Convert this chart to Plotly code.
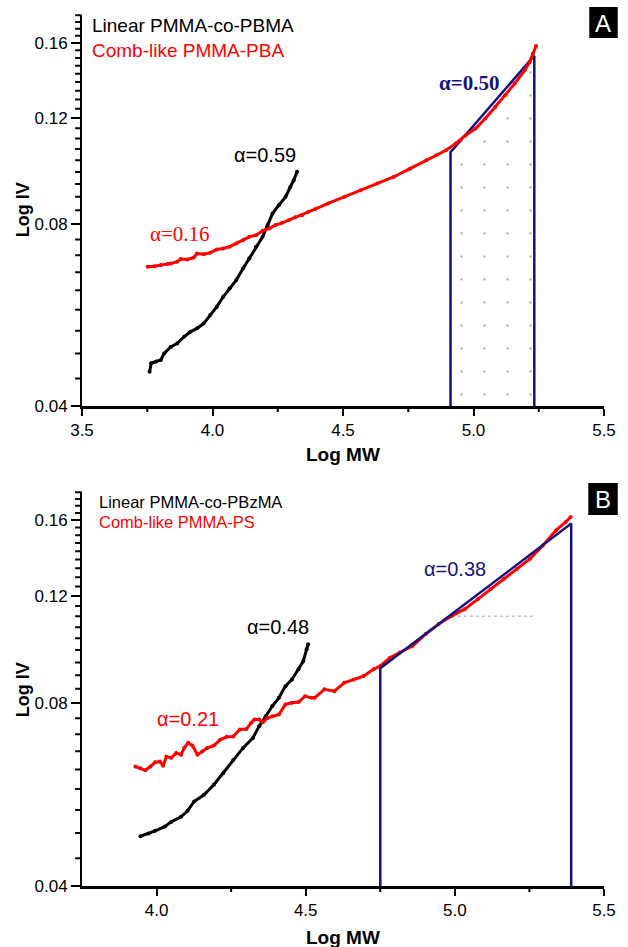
import numpy as np
import plotly.graph_objects as go

# ---------------- Panel A data ----------------
a_lin_x = [3.759, 3.765, 3.784, 3.802, 3.815, 3.840, 3.865, 3.891, 3.915, 3.941, 3.966, 3.991, 4.016, 4.041,
           4.066, 4.091, 4.117, 4.141, 4.167, 4.192, 4.211, 4.230, 4.254, 4.280, 4.298, 4.311, 4.324]
a_lin_y = [0.0456, 0.0471, 0.0474, 0.0477, 0.0489, 0.0501, 0.0508, 0.0521, 0.0531, 0.0538, 0.0548, 0.0566,
           0.0584, 0.0607, 0.0627, 0.0647, 0.0676, 0.0703, 0.0735, 0.0763, 0.0798, 0.0834, 0.0861, 0.0889,
           0.0923, 0.0947, 0.0978]
a_comb_x = [3.752, 3.778, 3.802, 3.828, 3.840, 3.865, 3.878, 3.903, 3.928, 3.941, 3.966, 3.991, 4.016, 4.041,
            4.066, 4.091, 4.117, 4.141, 4.167, 4.192, 4.217, 4.242, 4.267, 4.292, 4.317, 4.343, 4.367, 4.393,
            4.443, 4.506, 4.568, 4.631, 4.694, 4.757, 4.819, 4.857, 4.895, 4.932, 4.970, 5.008, 5.045, 5.083,
            5.121, 5.158, 5.196, 5.215, 5.228, 5.240]
a_comb_y = [0.0681, 0.0682, 0.0685, 0.0688, 0.0689, 0.0694, 0.0701, 0.0700, 0.0705, 0.0716, 0.0714, 0.0718,
            0.0727, 0.0730, 0.0735, 0.0744, 0.0753, 0.0763, 0.0768, 0.0781, 0.0788, 0.0798, 0.0805, 0.0813,
            0.0822, 0.0829, 0.0839, 0.0848, 0.0867, 0.0889, 0.0912, 0.0935, 0.0959, 0.0990, 0.1022, 0.1042,
            0.1062, 0.1090, 0.1125, 0.1154, 0.1199, 0.1253, 0.1310, 0.1370, 0.1441, 0.1487, 0.1536, 0.1581]
a_fit_x = [4.912, 5.233]
a_fit_y = [0.1054, 0.1524]

# ---------------- Panel B data ----------------
b_lin_x = [3.946, 3.973, 3.995, 4.028, 4.049, 4.082, 4.104, 4.126, 4.159, 4.192, 4.224, 4.257, 4.290, 4.323,
           4.344, 4.366, 4.388, 4.410, 4.432, 4.454, 4.476, 4.492, 4.503, 4.508]
b_lin_y = [0.0483, 0.0488, 0.0493, 0.0501, 0.0510, 0.0520, 0.0532, 0.0551, 0.0565, 0.0587, 0.0614, 0.0645,
           0.0675, 0.0701, 0.0733, 0.0761, 0.0791, 0.0816, 0.0853, 0.0875, 0.0909, 0.0938, 0.0981, 0.1000]
b_comb_x = [3.929, 3.946, 3.962, 3.979, 3.995, 4.011, 4.022, 4.033, 4.049, 4.066, 4.082, 4.093, 4.106, 4.120,
            4.137, 4.153, 4.170, 4.192, 4.213, 4.235, 4.257, 4.279, 4.301, 4.317, 4.328, 4.344, 4.356, 4.372,
            4.388, 4.410, 4.432, 4.454, 4.476, 4.498, 4.520, 4.530, 4.563, 4.596, 4.629, 4.661, 4.694, 4.727,
            4.751, 4.782, 4.815, 4.858, 4.902, 4.946, 4.989, 5.033, 5.077, 5.120, 5.164, 5.208, 5.252, 5.295,
            5.339, 5.372, 5.388]
b_comb_y = [0.0629, 0.0625, 0.0620, 0.0629, 0.0639, 0.0641, 0.0631, 0.0653, 0.0650, 0.0662, 0.0658, 0.0675,
            0.0688, 0.0681, 0.0658, 0.0666, 0.0675, 0.0681, 0.0696, 0.0704, 0.0705, 0.0724, 0.0725, 0.0742,
            0.0752, 0.0752, 0.0744, 0.0756, 0.0761, 0.0766, 0.0796, 0.0801, 0.0803, 0.0821, 0.0816, 0.0816,
            0.0843, 0.0837, 0.0864, 0.0875, 0.0886, 0.0909, 0.0921, 0.0950, 0.0969, 0.0993, 0.1039, 0.1079,
            0.1113, 0.1142, 0.1186, 0.1233, 0.1280, 0.1330, 0.1382, 0.1453, 0.1539, 0.1589, 0.1619]
b_fit_x = [4.75, 5.39]
b_fit_y = [0.0913, 0.1579]
b_guide_x = [4.99, 5.27]
b_guide_y = [0.1112, 0.1112]

# ---------------- ticks ----------------
y_major = [0.04, 0.08, 0.12, 0.16]
y_major_text = ["0.04", "0.08", "0.12", "0.16"]
a_x_range = [3.5, 5.5]
b_x_range = [3.75, 5.5]
a_x_major = [3.5, 4.0, 4.5, 5.0, 5.5]
b_x_major = [4.0, 4.5, 5.0, 5.5]
a_x_minor = [3.75, 4.25, 4.75, 5.25]
b_x_minor = [4.25, 4.75, 5.25]
y_min, y_max = 0.04, 0.1780
y_step = (0.08 - 0.04) / 9
y_minor = [0.04 + k * y_step for k in range(1, 32) if k % 9 != 0]

RED = "#ff0000"
BLACK = "#000000"
NAVY = "#14147f"
SANS = "Liberation Sans, Arial, sans-serif"
SERIF = "Liberation Serif, Times New Roman, serif"

W, H = 628, 947
ML, MR, MT, MB = 82, 14, 15, 61
PW, PH = W - ML - MR, H - MT - MB


def pxx(x):
    return (x - ML) / PW


def pxy(y):
    return (H - MB - y) / PH


A_DOM = [pxy(406), 1.0]
B_DOM = [0.0, pxy(492)]

fig = go.Figure()

# ---- Panel A ----
fig.add_trace(go.Scatter(
    x=[a_fit_x[0], a_fit_x[0], a_fit_x[1], a_fit_x[1]],
    y=[y_min, a_fit_y[0], a_fit_y[1], y_min],
    mode="lines", fill="toself", fillcolor="rgba(0,0,0,0)",
    fillpattern=dict(shape=".", fgcolor="#4a4ab8", bgcolor="rgba(0,0,0,0)", size=23, solidity=0.008),
    line=dict(color=NAVY, width=2.5), xaxis="x", yaxis="y", showlegend=False, hoverinfo="skip"))
fig.add_trace(go.Scatter(x=a_lin_x, y=a_lin_y, mode="lines+markers",
                         line=dict(color=BLACK, width=3), marker=dict(color=BLACK, size=4),
                         name="Linear PMMA-co-PBMA", xaxis="x", yaxis="y", showlegend=False))
fig.add_trace(go.Scatter(x=a_comb_x, y=a_comb_y, mode="lines+markers",
                         line=dict(color=RED, width=3), marker=dict(color=RED, size=4),
                         name="Comb-like PMMA-PBA", xaxis="x", yaxis="y", showlegend=False))

# ---- Panel B ----
fig.add_trace(go.Scatter(x=b_guide_x, y=b_guide_y, mode="lines",
                         line=dict(color="#9a9ad8", width=1, dash="dot"),
                         xaxis="x2", yaxis="y2", showlegend=False, hoverinfo="skip"))
fig.add_trace(go.Scatter(x=b_lin_x, y=b_lin_y, mode="lines+markers",
                         line=dict(color=BLACK, width=3), marker=dict(color=BLACK, size=4),
                         name="Linear PMMA-co-PBzMA", xaxis="x2", yaxis="y2", showlegend=False))
fig.add_trace(go.Scatter(x=b_comb_x, y=b_comb_y, mode="lines+markers",
                         line=dict(color=RED, width=3), marker=dict(color=RED, size=4),
                         name="Comb-like PMMA-PS", xaxis="x2", yaxis="y2", showlegend=False))
fig.add_trace(go.Scatter(
    x=[b_fit_x[0], b_fit_x[0], b_fit_x[1], b_fit_x[1]],
    y=[y_min, b_fit_y[0], b_fit_y[1], y_min],
    mode="lines", line=dict(color=NAVY, width=2.5),
    xaxis="x2", yaxis="y2", showlegend=False, hoverinfo="skip"))

tickfont = dict(family=SANS, size=17, color=BLACK)


def xaxis(rng, major, anchor):
    return dict(range=rng, tickmode="array", tickvals=major, ticktext=[f"{v:.1f}" for v in major],
                ticks="outside", ticklen=7, tickwidth=2, tickcolor=BLACK, tickfont=tickfont,
                showline=True, linecolor=BLACK, linewidth=2.5, showgrid=False, zeroline=False,
                anchor=anchor, domain=[0, 1])


def yaxis(domain, anchor):
    return dict(type="log", range=[np.log10(y_min), np.log10(y_max)], tickmode="array",
                tickvals=y_major, ticktext=y_major_text,
                ticks="outside", ticklen=9, tickwidth=2, tickcolor=BLACK, tickfont=tickfont,
                showline=True, linecolor=BLACK, linewidth=2, showgrid=False, zeroline=False,
                anchor=anchor, domain=domain)


L0, L1 = float(np.log10(y_min)), float(np.log10(y_max))


def minor_path(x_range, xminor, dom):
    # one SVG path (paper coordinates) holding all minor ticks of a panel
    segs = []
    for v in y_minor:
        yp = float(dom[0] + (np.log10(v) - L0) / (L1 - L0) * (dom[1] - dom[0]))
        segs.append(f"M{-7.0 / PW:.5f},{yp:.5f} L{-0.5 / PW:.5f},{yp:.5f}")
    for v in xminor:
        xp = float((v - x_range[0]) / (x_range[1] - x_range[0]))
        segs.append(f"M{xp:.5f},{dom[0] - 6.0 / PH:.5f} L{xp:.5f},{dom[0] - 0.5 / PH:.5f}")
    return dict(type="path", xref="paper", yref="paper", path=" ".join(segs),
                line=dict(color=BLACK, width=2))


shapes = [minor_path(a_x_range, a_x_minor, A_DOM), minor_path(b_x_range, b_x_minor, B_DOM)]

annotations = []


def add_text(text, x, y, size, color=BLACK, family=SANS, xanchor="center", angle=0, xref="paper",
             yref="paper", bold=False):
    if bold:
        text = f"<b>{text}</b>"
    annotations.append(dict(text=text, x=float(x), y=float(y), xref=xref, yref=yref, showarrow=False,
                            xanchor=xanchor, yanchor="middle", textangle=angle,
                            font=dict(family=family, size=size, color=color)))


# axis titles
add_text("Log IV", pxx(22), pxy(210), 18, angle=-90, bold=True)
add_text("Log MW", pxx(348), pxy(455), 19, bold=True)
add_text("Log IV", pxx(22), pxy(690), 18, angle=-90, bold=True)
add_text("Log MW", pxx(348), pxy(937), 19, bold=True)

# legends
add_text("Linear PMMA-co-PBMA", pxx(90), pxy(25), 19, xanchor="left")
add_text("Comb-like PMMA-PBA", pxx(90), pxy(50), 19, color=RED, xanchor="left")
add_text("Linear PMMA-co-PBzMA", pxx(97), pxy(502), 16.5, xanchor="left")
add_text("Comb-like PMMA-PS", pxx(97), pxy(522), 16.5, color=RED, xanchor="left")

# slope labels (data coordinates; log axis uses log10 for y)
add_text("α=0.59", 4.20, np.log10(0.1042), 20, xref="x", yref="y")
add_text("α=0.16", 3.877, np.log10(0.0770), 21, color=RED, family=SERIF, xref="x", yref="y")
add_text("α=0.50", 4.984, np.log10(0.1375), 21, color=NAVY, family=SERIF, xref="x", yref="y", bold=True)
add_text("α=0.48", 4.406, np.log10(0.1067), 20, xref="x2", yref="y2")
add_text("α=0.21", 4.104, np.log10(0.0754), 20, color=RED, xref="x2", yref="y2")
add_text("α=0.38", 5.002, np.log10(0.1330), 20, color=NAVY, xref="x2", yref="y2")

# panel labels
add_text("A", pxx(613), pxy(23), 24, color="white")
add_text("B", pxx(613), pxy(499), 24, color="white")

shapes += [
    dict(type="rect", xref="paper", yref="paper", x0=pxx(599), x1=pxx(628), y0=pxy(38), y1=pxy(7),
         fillcolor=BLACK, line=dict(width=0), layer="below"),
    dict(type="rect", xref="paper", yref="paper", x0=pxx(598), x1=pxx(628), y0=pxy(515), y1=pxy(483),
         fillcolor=BLACK, line=dict(width=0), layer="below"),
]

fig.update_layout(
    width=W, height=H, margin=dict(l=ML, r=MR, t=MT, b=MB),
    paper_bgcolor="white", plot_bgcolor="rgba(0,0,0,0)",
    xaxis=xaxis(a_x_range, a_x_major, "y"),
    yaxis=yaxis(A_DOM, "x"),
    xaxis2=xaxis(b_x_range, b_x_major, "y2"),
    yaxis2=yaxis(B_DOM, "x2"),
    annotations=annotations, shapes=shapes, showlegend=False,
)

fig.write_html("out.html")
